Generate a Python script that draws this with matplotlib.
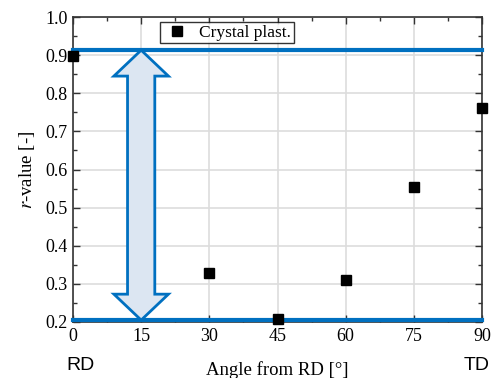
import matplotlib
matplotlib.use("Agg")
import matplotlib.pyplot as plt
from matplotlib.patches import Polygon
from matplotlib.ticker import MultipleLocator

# r-value vs. angle from rolling direction
angles = [0, 30, 45, 60, 75, 90]
r_vals = [0.898, 0.328, 0.207, 0.311, 0.553, 0.762]

# band limits (blue lines) and where the arrow sits
r_lo = 0.205
r_hi = 0.913
arrow_x = 15

blue = "#0070c0"

plt.rcParams["font.family"] = ["Liberation Serif", "DejaVu Serif"]
plt.rcParams["mathtext.fontset"] = "stix"

fig = plt.figure(figsize=(4.91, 3.78), dpi=100)
ax = fig.add_axes([73 / 491, 1 - 322 / 378, (482 - 73) / 491, (322 - 17) / 378])

ax.set_xlim(0, 90)
ax.set_ylim(0.2, 1.0)
ax.xaxis.set_major_locator(MultipleLocator(15))
ax.xaxis.set_minor_locator(MultipleLocator(7.5))
ax.yaxis.set_major_locator(MultipleLocator(0.1))
ax.yaxis.set_minor_locator(MultipleLocator(0.05))
ax.tick_params(which="both", direction="in", top=True, right=True,
               labelsize=13, color="#333333")
ax.tick_params(which="major", length=5, width=1, pad=4)
ax.tick_params(which="minor", length=3, width=1)
ax.yaxis.set_major_formatter(matplotlib.ticker.FormatStrFormatter("%.1f"))
ax.grid(True, which="major", color="#dddddd", lw=1.2)
ax.set_axisbelow(True)
for s in ax.spines.values():
    s.set_color("#333333")
    s.set_linewidth(1.2)

# limit lines
ax.axhline(r_hi, color=blue, lw=3, zorder=3, clip_on=False)
ax.axhline(r_lo, color=blue, lw=3, zorder=3, clip_on=False)

# double-headed block arrow between the two lines
hw = 3.0      # shaft half width (deg)
hh = 6.0      # head half width (deg)
hl = 0.068    # head length (r units)
pts = [
    (arrow_x, r_hi),
    (arrow_x + hh, r_hi - hl),
    (arrow_x + hw, r_hi - hl),
    (arrow_x + hw, r_lo + hl),
    (arrow_x + hh, r_lo + hl),
    (arrow_x, r_lo),
    (arrow_x - hh, r_lo + hl),
    (arrow_x - hw, r_lo + hl),
    (arrow_x - hw, r_hi - hl),
    (arrow_x - hh, r_hi - hl),
]
ax.add_patch(Polygon(pts, closed=True, facecolor="#dce6f2", edgecolor=blue,
                     lw=2, zorder=4, joinstyle="miter"))

ax.plot(angles, r_vals, "s", color="black", ms=7, ls="none",
        label="Crystal plast.", zorder=5, clip_on=False)

leg = ax.legend(loc="upper left", bbox_to_anchor=(0.213, 0.984), fontsize=12.5,
                frameon=True, fancybox=False, edgecolor="black",
                borderpad=0.15, handletextpad=0.5, handlelength=1.6,
                borderaxespad=0)
leg.get_frame().set_linewidth(1)

ax.set_xlabel("Angle from RD [°]", fontsize=13.5, labelpad=12)
ax.set_ylabel("$r$-value [-]", fontsize=13.5, labelpad=6)

fig.text(81 / 491, 1 - 366 / 378, "RD", fontsize=14, family="Liberation Sans",
         ha="center", va="center")
fig.text(490 / 491, 1 - 366 / 378, "TD", fontsize=14, family="Liberation Sans",
         ha="right", va="center")

fig.savefig("out.png", dpi=100)
